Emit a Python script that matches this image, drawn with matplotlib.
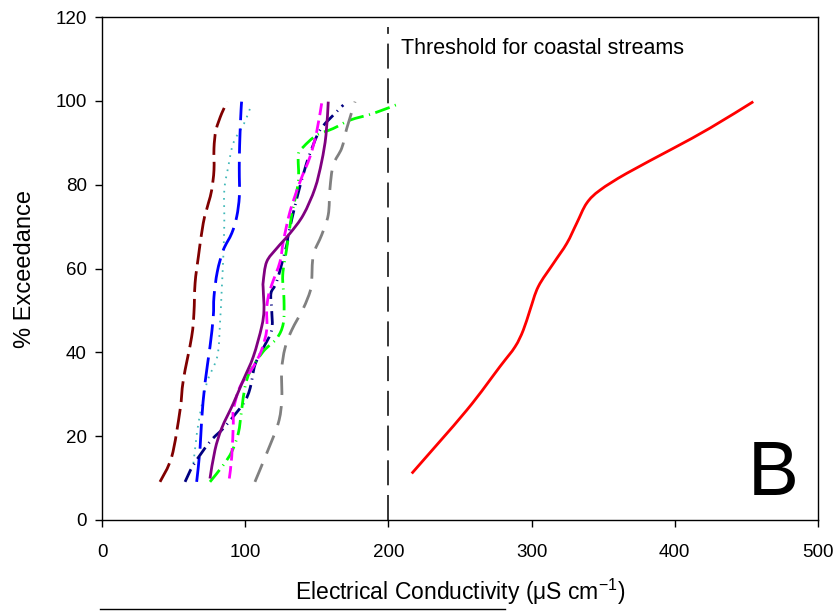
import matplotlib
matplotlib.use("Agg")
import matplotlib.pyplot as plt
import numpy as np
from matplotlib.lines import Line2D
from matplotlib.path import Path
from matplotlib.patches import PathPatch

plt.rcParams['font.family'] = ['Liberation Sans', 'DejaVu Sans']
plt.rcParams['lines.scale_dashes'] = False
plt.rcParams['mathtext.fontset'] = 'custom'
plt.rcParams['mathtext.rm'] = 'Liberation Sans'

# ---- data (EC in uS/cm, % exceedance) ----
maroon_x = [40.5, 48.7, 54.5, 56.8, 62.6, 64.2, 65.0, 67.3, 70.7, 74.3, 76.6, 78.2, 78.2, 79.6, 83.6, 87.5]
maroon_y = [9.1, 15.1, 26.2, 33.4, 43.7, 49.4, 56.5, 62.8, 70.8, 75.6, 78.7, 83.5, 88.7, 93.0, 97.0, 99.8]

blue_x = [66.1, 68.4, 69.6, 71.9, 75.4, 77.7, 78.2, 80.5, 84.7, 90.6, 94.1, 95.9, 95.9, 95.9, 96.4, 97.1, 97.5]
blue_y = [9.1, 16.7, 23.9, 32.6, 41.3, 48.5, 53.3, 59.2, 64.4, 68.4, 72.4, 77.1, 81.9, 86.3, 92.3, 97.8, 99.8]

teal_x = [63.8, 67.3, 73.1, 80.5, 82.4, 83.6, 84.7, 85.4, 85.4, 88.2, 91.7, 99.2, 103.4]
teal_y = [13.5, 23.0, 32.6, 39.0, 46.9, 54.9, 62.8, 70.8, 78.7, 84.3, 89.9, 94.6, 98.2]

navy_x = [58.0, 63.8, 75.4, 85.9, 98.7, 103.4, 106.8, 112.6, 118.5, 118.5, 118.0, 122.0, 129.0, 130.1, 136.0, 141.8, 145.3, 152.2, 162.7, 168.5]
navy_y = [9.1, 13.1, 18.7, 22.3, 27.8, 31.4, 37.0, 41.0, 45.3, 50.1, 54.1, 56.9, 65.6, 68.0, 76.7, 83.9, 87.5, 93.0, 97.0, 99.0]

green_x = [75.4, 84.7, 90.6, 95.2, 97.5, 99.9, 103.4, 112.6, 122.0, 126.6, 127.1, 126.2, 129.0, 132.5, 137.1, 137.1, 140.6, 149.9, 161.5, 173.2, 189.5, 208.1]
green_y = [9.1, 13.1, 16.3, 20.7, 26.2, 31.8, 35.4, 40.2, 43.3, 46.9, 52.5, 58.4, 64.8, 72.8, 80.7, 87.1, 89.0, 91.8, 93.4, 95.4, 97.0, 99.4]

magenta_x = [88.9, 90.6, 91.7, 91.7, 96.4, 105.7, 111.5, 115.0, 115.0, 116.1, 118.5, 124.3, 126.6, 131.3, 138.3, 145.3, 149.9, 153.4]
magenta_y = [9.9, 15.1, 23.1, 26.2, 31.8, 36.6, 40.6, 45.3, 50.1, 53.3, 56.1, 61.6, 66.4, 73.6, 80.7, 86.7, 92.6, 99.4]

purple_x = [75.4, 78.9, 83.6, 91.7, 98.7, 105.7, 111.5, 113.1, 112.6, 112.6, 115.0, 122.0, 131.3, 140.6, 148.7, 153.4, 156.4, 158.0]
purple_y = [9.9, 16.7, 21.9, 27.8, 33.4, 39.0, 46.1, 50.1, 54.9, 56.9, 61.6, 64.8, 68.4, 72.8, 79.1, 85.5, 91.8, 99.8]

gray_x = [106.8, 115.0, 123.1, 125.5, 125.5, 127.8, 132.5, 140.6, 145.3, 146.4, 147.6, 153.4, 158.0, 159.2, 161.5, 167.4, 170.9, 176.7]
gray_y = [9.1, 15.9, 23.1, 28.6, 35.8, 41.0, 45.3, 50.5, 54.5, 56.9, 63.2, 68.0, 72.8, 79.1, 84.7, 88.7, 93.4, 99.8]

red_x = [216.3, 254.7, 277.9, 288.4, 294.2, 298.9, 304.7, 315.2, 324.6, 331.5, 338.5, 347.8, 366.4, 399.1, 424.6, 454.8]
red_y = [11.1, 26.2, 36.6, 41.3, 45.3, 50.1, 55.7, 61.2, 66.0, 70.8, 75.6, 78.7, 82.7, 88.7, 93.5, 99.8]

threshold_x = 200
threshold_label = "Threshold for coastal streams"
x_ticks = [0, 100, 200, 300, 400, 500]
y_ticks = [0, 20, 40, 60, 80, 100, 120]


def smooth_path(xs, ys):
    """Bezier path passing through every read point (Catmull-Rom tangents)."""
    p = np.column_stack([xs, ys]).astype(float)
    n = len(p)
    verts = [p[0]]
    codes = [Path.MOVETO]
    for i in range(n - 1):
        p0 = p[i - 1] if i > 0 else p[i]
        p1, p2 = p[i], p[i + 1]
        p3 = p[i + 2] if i + 2 < n else p[i + 1]
        c1 = p1 + (p2 - p0) / 6.0
        c2 = p2 - (p3 - p1) / 6.0
        verts += [c1, c2, p2]
        codes += [Path.CURVE4] * 3
    return Path(verts, codes)


def draw(ax, xs, ys, color, lw=2.0, dashes=None):
    ls = 'solid' if dashes is None else (0, dashes)
    patch = PathPatch(smooth_path(xs, ys), fill=False, edgecolor=color,
                      linewidth=lw, linestyle=ls, capstyle='butt')
    ax.add_patch(patch)


fig = plt.figure(figsize=(8.39, 6.12), dpi=100)
ax = fig.add_axes([102/839, 1-520/612, (818-102)/839, (520-17)/612])

draw(ax, maroon_x, maroon_y, '#800000', dashes=(15, 5))
draw(ax, teal_x, teal_y, '#3fb8b8', lw=1.3, dashes=(1.2, 4))
draw(ax, blue_x, blue_y, '#0000ff', dashes=(18, 6))
draw(ax, navy_x, navy_y, '#000080', dashes=(10, 4, 0.8, 4))
draw(ax, green_x, green_y, '#00ff00', dashes=(11, 4, 0.8, 4))
draw(ax, magenta_x, magenta_y, '#ff00ff', dashes=(9, 4))
draw(ax, gray_x, gray_y, '#808080', dashes=(14, 8))
draw(ax, purple_x, purple_y, '#800080')
draw(ax, red_x, red_y, '#ff0000')

ax.plot([threshold_x, threshold_x], [0, 117.5], color='black', lw=1.1, dashes=(18, 7))
ax.text(209, 112.4, threshold_label, fontsize=15.5, va='center', ha='left')
ax.text(451, 6, "B", fontsize=55, ha='left', va='baseline')

ax.set_xlim(0, 500)
ax.set_ylim(0, 120)
ax.set_xticks(x_ticks)
ax.set_yticks(y_ticks)
ax.tick_params(direction='out', length=5, width=1, labelsize=13.5, pad=6)
ax.tick_params(axis='x', pad=12)
for s in ax.spines.values():
    s.set_linewidth(1.0)
ax.set_xlabel("Electrical Conductivity (\u03bcS cm$^{\\mathregular{-1}}$)", fontsize=16.5, labelpad=12)
ax.set_ylabel("% Exceedance", fontsize=17, labelpad=14)

fig.add_artist(Line2D([100/839, 505/839], [1-609/612, 1-609/612], color='black', lw=1.0, transform=fig.transFigure))

fig.savefig("out.png", dpi=100)
